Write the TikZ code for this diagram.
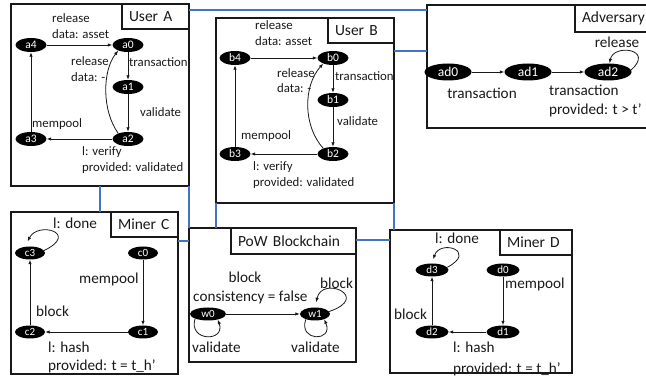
\documentclass[tikz,border=0pt]{standalone}
\usepackage{fontspec}
\setmainfont{Carlito}
\usetikzlibrary{arrows.meta,shapes.geometric,calc}
\definecolor{busblue}{RGB}{68,114,196}
\definecolor{ink}{RGB}{25,25,25}
\begin{document}
\begin{tikzpicture}[x=1pt,y=1pt,
  frame/.style={draw=ink,line width=1.3pt,rectangle,inner sep=0pt,outer sep=0pt},
  title/.style={draw=ink,line width=1.3pt,fill=white,rectangle,inner xsep=7pt,inner ysep=0pt,outer sep=0pt,minimum height=25pt,align=left,font=\fontsize{15.5}{18}\selectfont,text=ink},
  st/.style={ellipse,fill=black,text=white,inner sep=0pt,minimum width=31pt,minimum height=14pt,font=\fontsize{11.5}{12}\selectfont},
  stbig/.style={st,minimum width=47pt,minimum height=17pt,font=\fontsize{13.5}{15}\selectfont},
  lbl/.style={inner sep=0pt,align=left,font=\fontsize{12.8}{15.5}\selectfont,text=ink},
  lblbig/.style={lbl,font=\fontsize{15.2}{19}\selectfont},
  arr/.style={draw=ink,line width=0.8pt,-{Latex[length=4.5pt,width=3.5pt]}},
  bus/.style={draw=busblue,line width=1.1pt}]

\useasboundingbox (0,0) rectangle (646,379);
\clip (0,0) rectangle (646,379);

% frames
\node[frame,minimum width=178pt,minimum height=182pt] (userA) at (100,284) {};
\node[frame,minimum width=178pt,minimum height=185pt] (userB) at (305,268.5) {};
\node[frame,minimum width=233pt,minimum height=123pt] (adv) at (543.5,312.5) {};
\node[frame,minimum width=167pt,minimum height=162pt] (minerC) at (94.5,86) {};
\node[frame,minimum width=167pt,minimum height=134pt] (pow) at (272.5,84) {};
\node[frame,minimum width=182pt,minimum height=143pt] (minerD) at (481,77.5) {};

% titles
\node[title,text width=53pt,anchor=north east] (tA) at (userA.north east) {User A};
\node[title,text width=52pt,anchor=north east] (tB) at (userB.north east) {User B};
\node[title,text width=71pt,minimum height=27pt,anchor=north west] (tAdv) at (575,374) {Adversary};
\node[title,text width=53pt,anchor=north east] (tC) at (minerC.north east) {Miner C};
\node[title,text width=111pt,minimum height=26pt,anchor=north east] (tP) at (pow.north east) {PoW Blockchain};
\node[title,text width=58pt,anchor=north east] (tD) at (minerD.north east) {Miner D};

% blue links
\draw[bus] ([yshift=-6pt]userA.north east) -- ([yshift=-6pt]userA.north east -| adv.west);
\draw[bus] ([yshift=-33pt]userB.north east) -- ([yshift=-33pt]userB.north east -| adv.west);
\draw[bus] (userA.south) -- (userA.south |- minerC.north);
\draw[bus] (userA.south east) -- (userA.south east |- pow.north);
\draw[bus] (userB.south west) -- (userB.south west |- pow.north);
\draw[bus] (userB.south east) -- (userB.south east |- minerD.north);
\draw[bus] ([yshift=-29pt]minerC.north east) -- ([yshift=-29pt]minerC.north east -| pow.west);
\draw[bus] ([yshift=-12pt]pow.north east) -- ([yshift=-12pt]pow.north east -| minerD.west);

% User A
\node[st] (a4) at (31,334) {a4};
\node[st] (a0) at (128,334) {a0};
\node[st] (a1) at (128,292) {a1};
\node[st] (a2) at (128,240) {a2};
\node[st] (a3) at (31,240) {a3};
\draw[arr] (a4) -- (a0);
\draw[arr] (a0) -- (a1);
\draw[arr] (a1) -- (a2);
\draw[arr] (a2) -- (a3);
\draw[arr] (a3) -- (a4);
\draw[arr] (a2.150) .. controls (102,268) and (102,308) .. (a0.210);
\node[lbl,anchor=west] (la1) at (52,353) {release\\data: asset};
\node[lbl,anchor=west] (la2) at (71,310) {release\\data: -};
\node[lbl,anchor=west] (la3) at (129,317) {transaction};
\node[lbl,anchor=west] (la4) at (140,267) {validate};
\node[lbl,anchor=west] (la5) at (32,255) {mempool};
\node[lbl,anchor=west] (la6) at (82,219) {l: verify\\provided: validated};

% User B
\node[st] (b4) at (235,321) {b4};
\node[st] (b0) at (333,321) {b0};
\node[st] (b1) at (333,279) {b1};
\node[st] (b2) at (333,225) {b2};
\node[st] (b3) at (235,225) {b3};
\draw[arr] (b4) -- (b0);
\draw[arr] (b0) -- (b1);
\draw[arr] (b1) -- (b2);
\draw[arr] (b2) -- (b3);
\draw[arr] (b3) -- (b4);
\draw[arr] (b2.150) .. controls (303,253) and (303,293) .. (b0.210);
\node[lbl,anchor=west] (lb1) at (255,346) {release\\data: asset};
\node[lbl,anchor=west] (lb2) at (277,298.5) {release\\data: -};
\node[lbl,anchor=west] (lb3) at (335,303) {transaction};
\node[lbl,anchor=west] (lb4) at (337,258) {validate};
\node[lbl,anchor=west] (lb5) at (241,243) {mempool};
\node[lbl,anchor=west] (lb6) at (253,204) {l: verify\\provided: validated};

% Adversary
\node[stbig] (ad0) at (448,307) {ad0};
\node[stbig] (ad1) at (528,307) {ad1};
\node[stbig] (ad2) at (608,307) {ad2};
\draw[arr] (ad0) -- (ad1);
\draw[arr] (ad1) -- (ad2);
\draw[arr] (ad2.5) .. controls (655,330) and (613.5,335.5) .. (ad2.80);
\node[lblbig] (lad1) at (617,337) {release};
\node[lblbig] (lad2) at (482,286) {transaction};
\node[lblbig,anchor=west] (lad3) at (549,289) {transaction};
\node[lblbig,anchor=west] (lad4) at (549,269) {provided: t > t’};

% Miner C
\node[st,minimum width=30pt,minimum height=13pt,font=\fontsize{11}{12}\selectfont] (c3) at (30,126) {c3};
\node[st,minimum width=30pt,minimum height=13pt,font=\fontsize{11}{12}\selectfont] (c0) at (143,126) {c0};
\node[st,minimum width=30pt,minimum height=13pt,font=\fontsize{11}{12}\selectfont] (c1) at (143,47) {c1};
\node[st,minimum width=30pt,minimum height=13pt,font=\fontsize{11}{12}\selectfont] (c2) at (30,47) {c2};
\draw[arr] (c0) -- (c1);
\draw[arr] (c1) -- (c2);
\draw[arr] (c2) -- (c3);
\draw[arr] (c3.10) .. controls (80,146) and (38,158) .. ([yshift=5pt]c3.110);
\node[lblbig,anchor=west] (lc1) at (53,156) {l: done};
\node[lblbig,anchor=west] (lc2) at (79,100) {mempool};
\node[lblbig,anchor=west] (lc3) at (36,68) {block};
\node[lblbig,anchor=west] (lc4) at (48,32) {l: hash};
\node[lblbig,anchor=west] (lc5) at (48,13) {provided: t = t\_h’};

% PoW Blockchain
\node[st,minimum width=36pt,minimum height=13pt,font=\fontsize{11}{12}\selectfont] (w0) at (208,65) {w0};
\node[st,minimum width=30pt,minimum height=13pt,font=\fontsize{11}{12}\selectfont] (w1) at (315,65) {w1};
\draw[arr] (w0) -- (w1);
\draw[arr] (w0.200) .. controls (188,37) and (226,37) .. (w0.330);
\draw[arr] (w1.210) .. controls (298,37) and (334,37) .. (w1.330);
\draw[arr] (w1.10) .. controls (372,82) and (322,104) .. ([yshift=5pt]w1.80);
\node[lblbig] (lw1) at (245,102) {block};
\node[lblbig,anchor=west] (lw2) at (193,82) {consistency = false};
\node[lblbig,anchor=west] (lw3) at (320,96) {block};
\node[lblbig,anchor=west] (lw4) at (192,32) {validate};
\node[lblbig,anchor=west] (lw5) at (291,32) {validate};

% Miner D
\node[st,minimum width=33pt,minimum height=13pt,font=\fontsize{11}{12}\selectfont] (d3) at (432,109) {d3};
\node[st,minimum width=33pt,minimum height=13pt,font=\fontsize{11}{12}\selectfont] (d0) at (503,109) {d0};
\node[st,minimum width=33pt,minimum height=13pt,font=\fontsize{11}{12}\selectfont] (d1) at (503,47) {d1};
\node[st,minimum width=33pt,minimum height=13pt,font=\fontsize{11}{12}\selectfont] (d2) at (432,47) {d2};
\draw[arr] (d0) -- (d1);
\draw[arr] (d1) -- (d2);
\draw[arr] (d2) -- (d3);
\draw[arr] (d3.10) .. controls (478,128) and (440,140) .. ([yshift=4pt]d3.80);
\node[lblbig,anchor=west] (ld1) at (435,141) {l: done};
\node[lblbig,anchor=west] (ld2) at (505,95) {mempool};
\node[lblbig,anchor=west] (ld3) at (394,65) {block};
\node[lblbig,anchor=west] (ld4) at (453,32) {l: hash};
\node[lblbig,anchor=west] (ld5) at (453,10) {provided: t = t\_h’};
\end{tikzpicture}
\end{document}
